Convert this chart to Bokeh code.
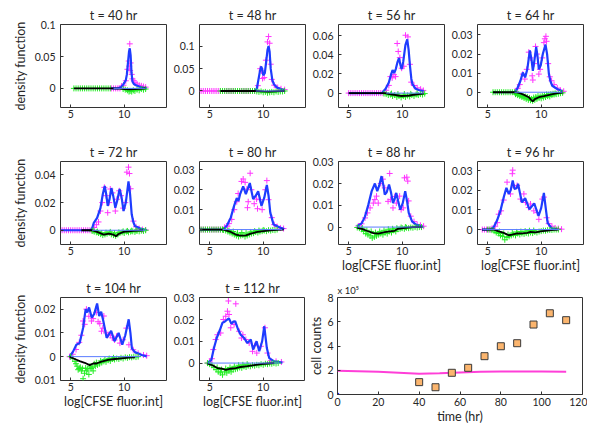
from bokeh.plotting import figure
from bokeh.layouts import row, column
from bokeh.models import Range1d
from bokeh.embed import file_html
from bokeh.resources import INLINE

FONT = "Lato"
MAG = "#ff33ff"
GRN = "#22ee22"
BLU = "#1e3cff"
ZBLU = "#5a7cff"

# ---------------- data: t = 40 hr ----------------
mag40_x = [8.8, 9.0, 9.2, 9.4, 9.6, 9.75, 9.94, 10.15, 10.3, 10.42, 10.47, 10.52, 10.55, 10.6, 10.7, 10.77, 10.9, 11.0, 11.2, 11.4, 11.6, 11.8, 12.0]
mag40_y = [0, 0, 0, 0, 0, 0.0036, 0.005, 0.012, 0.03, 0.043, 0.035, 0.070, 0.028, 0.04, 0.022, 0.015, 0.012, 0.009, 0.007, 0.005, 0.004, 0.003, 0.002]
blu40_x = [8.8, 9.4, 9.7, 9.9, 10.05, 10.15, 10.25, 10.35, 10.45, 10.52, 10.6, 10.68, 10.77, 10.9, 11.1, 11.4, 11.8, 12.1]
blu40_y = [0, 0, 0.002, 0.006, 0.010, 0.013, 0.022, 0.040, 0.058, 0.063, 0.052, 0.025, 0.011, 0.007, 0.005, 0.003, 0.001, 0.0]
grn40_x = [5.3, 5.5, 5.7, 5.9, 6.1, 6.3, 6.5, 6.7, 6.9, 7.1, 7.3, 7.5, 7.7, 7.9, 8.1, 8.3, 8.5, 8.7,
           9.9, 10.1, 10.3, 10.45, 10.55, 10.7, 10.85, 11.0, 11.2, 11.4, 11.6, 11.8, 12.0]
grn40_y = [0, 0, 0, 0, 0, 0, 0, 0, 0, 0, 0, 0, 0, 0, 0, 0, 0, 0,
           -0.001, -0.002, -0.003, -0.005, -0.004, -0.005, -0.003, -0.004, -0.002, -0.003, -0.001, -0.002, -0.001]
blk40_x = [5.3, 8.8, 9.6, 10.0, 10.5, 11.0, 11.5, 12.0]
blk40_y = [0, 0, -0.0005, -0.001, -0.0015, -0.001, -0.0008, 0]
zero40 = [9.0, 12.0]

# ---------------- data: t = 48 hr ----------------
mag48_x = [4.2, 4.4, 4.6, 4.8, 5.0, 5.2, 5.4, 5.6, 5.8, 6.0, 6.2, 6.4, 6.6, 6.8, 7.0, 7.2, 7.4, 7.6, 7.8, 8.0, 8.2, 8.4, 8.6, 8.8, 9.0, 9.2,
           9.5, 9.72, 9.85, 9.94, 10.1, 10.25, 10.4, 10.5, 10.6, 10.7, 10.8, 11.03, 11.35, 11.66, 12.0]
mag48_y = [0, 0, 0, 0, 0, 0, 0, 0, 0, 0, 0, 0, 0, 0, 0, 0, 0, 0, 0, 0, 0, 0, 0, 0, 0, 0,
           0.012, 0.05, 0.045, 0.028, 0.03, 0.069, 0.11, 0.122, 0.107, 0.06, 0.026, 0.013, 0.0075, 0.005, 0.003]
blu48_x = [6.0, 9.2, 9.4, 9.55, 9.7, 9.8, 9.9, 10.0, 10.15, 10.3, 10.4, 10.5, 10.6, 10.7, 10.85, 11.0, 11.3, 11.7, 12.0]
blu48_y = [0, 0, 0.005, 0.025, 0.045, 0.055, 0.05, 0.035, 0.04, 0.07, 0.092, 0.101, 0.088, 0.05, 0.025, 0.015, 0.0075, 0.004, 0.002]
grn48_x = [6.0, 6.2, 6.4, 6.6, 6.8, 7.0, 7.2, 7.4, 7.6, 7.8, 8.0, 8.2, 8.4, 8.6, 8.8, 9.0, 9.2,
           9.4, 9.6, 9.8, 10.0, 10.2, 10.4, 10.6, 10.8, 11.0, 11.2, 11.4, 11.6, 11.8, 12.0]
grn48_y = [0, 0, 0, 0, 0, 0, 0, 0, 0, 0, 0, 0, 0, 0, 0, 0, 0,
           -0.001, -0.002, -0.001, -0.003, -0.002, -0.004, -0.003, -0.002, -0.003, -0.001, -0.002, -0.001, -0.001, 0.0]
blk48_x = [6.0, 9.3, 10.0, 10.5, 11.0, 11.5, 12.0]
blk48_y = [0, 0, -0.001, -0.0015, -0.001, -0.0005, 0]
zero48 = [9.3, 12.0]

# ---------------- data: t = 56 hr ----------------
mag56_x = [5.0, 5.2, 5.4, 5.6, 5.8, 6.0, 6.2, 6.4, 6.6, 6.8, 7.0, 7.2, 7.4, 7.6, 7.8, 8.0, 8.2,
           8.5, 8.75, 8.9, 9.06, 9.22, 9.38, 9.53, 9.63, 9.78, 9.95, 10.15, 10.31, 10.53, 10.72, 10.84, 11.1, 11.4, 11.72, 11.97]
mag56_y = [0, 0, 0, 0, 0, 0, 0, 0, 0, 0, 0, 0, 0, 0, 0, 0, 0,
           0.003, 0.008, 0.0172, 0.0159, 0.0193, 0.0172, 0.0517, 0.0434, 0.037, 0.026, 0.028, 0.0603, 0.0586, 0.030, 0.0114, 0.0079, 0.0055, 0.0041, 0.0028]
blu56_x = [5.0, 8.1, 8.45, 8.75, 8.95, 9.1, 9.25, 9.4, 9.55, 9.7, 9.82, 9.95, 10.1, 10.3, 10.47, 10.6, 10.72, 10.85, 10.95, 11.25, 11.6, 12.0]
blu56_y = [0, 0, 0.0045, 0.011, 0.019, 0.024, 0.021, 0.025, 0.032, 0.0365, 0.03, 0.025, 0.033, 0.05, 0.056, 0.045, 0.029, 0.015, 0.0097, 0.0045, 0.003, 0.002]
grn56_x = [8.3, 8.5, 8.7, 8.9, 9.0, 9.1, 9.3, 9.5, 9.6, 9.7, 9.9, 10.1, 10.2, 10.3, 10.5, 10.7, 10.8, 10.9, 11.1, 11.3, 11.4, 11.5, 11.7, 11.9, 12.1]
grn56_y = [-0.0005, -0.001, -0.002, -0.0015, -0.0005, -0.003, -0.002, -0.004, -0.001, -0.003, -0.0045, -0.003, -0.001, -0.004, -0.0025,
           -0.0035, -0.0008, -0.002, -0.003, -0.0015, -0.0005, -0.002, -0.001, -0.0015, -0.0005]
blk56_x = [5.0, 8.4, 8.8, 9.2, 9.6, 9.85, 10.3, 10.7, 11.1, 11.5, 12.0]
blk56_y = [0, 0, -0.001, -0.0017, -0.0025, -0.003, -0.0028, -0.0025, -0.0017, -0.001, -0.0005]
zero56 = [8.5, 12.0]

# ---------------- data: t = 64 hr ----------------
mag64_x = [7.8, 8.0, 8.28, 8.47, 8.65, 8.84, 9.0, 9.16, 9.22, 9.35, 9.47, 9.6, 9.78, 9.9, 10.1, 10.25, 10.34, 10.44, 10.5, 10.65, 10.8, 10.97, 11.2, 11.5, 11.8, 12.1]
mag64_y = [0.002, 0.004, 0.0095, 0.0069, 0.012, 0.021, 0.018, 0.0086, 0.0064, 0.015, 0.024, 0.02, 0.0095, 0.012, 0.018, 0.026, 0.028, 0.0293, 0.0267, 0.015, 0.0081, 0.006, 0.004, 0.0022, 0.001, 0.0005]
blu64_x = [5.5, 7.5, 7.75, 8.06, 8.28, 8.5, 8.7, 8.94, 9.1, 9.22, 9.35, 9.53, 9.65, 9.78, 9.95, 10.15, 10.4, 10.55, 10.72, 10.85, 11.03, 11.5, 12.0]
blu64_y = [0, 0, 0.0017, 0.006, 0.0103, 0.0078, 0.012, 0.0219, 0.017, 0.0112, 0.016, 0.0238, 0.019, 0.012, 0.014, 0.02, 0.025, 0.02, 0.0095, 0.006, 0.0034, 0.0017, 0.0005]
grn64_x = [5.5, 5.7, 5.9, 6.1, 6.3, 6.5, 6.7, 6.9, 7.1, 7.3, 7.5,
           7.6, 7.8, 8.0, 8.2, 8.4, 8.6, 8.8, 9.0, 9.2, 9.4, 9.6, 9.8, 10.0, 10.2, 10.4, 10.6, 10.8, 11.0, 11.2, 11.4, 11.6, 11.8, 12.0,
           7.7, 7.9, 8.1, 8.3, 8.5, 8.7, 8.9, 9.1, 9.3, 9.5, 9.7, 9.9, 10.1, 10.3, 10.5, 10.7, 10.9, 11.1, 11.3]
grn64_y = [0, 0, 0, 0, 0, 0, 0, 0, 0, 0, 0,
           -0.001, -0.0015, -0.002, -0.0025, -0.003, -0.0035, -0.004, -0.0042, -0.0045, -0.004, -0.0035, -0.003, -0.0032, -0.0028, -0.0025,
           -0.002, -0.0022, -0.0015, -0.0012, -0.001, -0.0008, -0.0005, -0.0003,
           -0.0005, -0.001, -0.0015, -0.002, -0.0022, -0.0025, -0.003, -0.0035, -0.0028, -0.0025, -0.002, -0.0022, -0.0018, -0.0015,
           -0.0012, -0.0013, -0.001, -0.0008, -0.0006]
blk64_x = [5.5, 7.6, 8.0, 8.4, 8.84, 9.06, 9.22, 9.4, 9.78, 10.25, 10.87, 11.5, 12.0]
blk64_y = [0, 0, -0.0005, -0.0014, -0.0026, -0.004, -0.0048, -0.0036, -0.0026, -0.002, -0.0012, -0.0005, -0.0002]
zero64 = [7.5, 12.0]

# ---------------- data: t = 72 hr ----------------
mag72_x = [4.2, 4.4, 4.6, 4.8, 5.0, 5.2, 5.4, 5.6, 5.8, 6.0, 6.2, 6.4, 6.6, 6.8, 7.0,
           7.2, 7.4, 7.6, 7.78, 7.95, 8.15, 8.3, 8.46, 8.6, 8.7, 8.9, 9.17, 9.32, 9.54, 9.7, 9.9, 10.1, 10.25, 10.4, 10.49, 10.6, 10.86, 11.1, 11.4, 11.7, 12.0]
mag72_y = [0, 0, 0, 0, 0, 0, 0, 0, 0, 0, 0, 0, 0, 0, 0,
           0.002, 0.004, 0.006, 0.0139, 0.02, 0.031, 0.025, 0.0127, 0.02, 0.0298, 0.027, 0.0139, 0.0224, 0.0285, 0.025, 0.016, 0.02, 0.042, 0.0456, 0.041, 0.03, 0.0066, 0.0025, 0.0012, 0.0005, 0.0002]
blu72_x = [4.1, 6.8, 7.0, 7.16, 7.47, 7.78, 8.0, 8.18, 8.32, 8.46, 8.62, 8.8, 8.97, 9.17, 9.37, 9.57, 9.75, 9.94, 10.15, 10.4, 10.55, 10.7, 10.85, 11.0, 11.5, 12.1]
blu72_y = [0, 0, 0.0012, 0.0054, 0.009, 0.016, 0.026, 0.032, 0.026, 0.0176, 0.022, 0.0305, 0.025, 0.0163, 0.022, 0.0298, 0.024, 0.0139, 0.02, 0.0354, 0.026, 0.0115, 0.006, 0.003, 0.0012, 0.0002]
grn72_x = [7.0, 7.2, 7.4, 7.6, 7.8, 8.0, 8.2, 8.4, 8.6, 8.8, 9.0, 9.2, 9.4, 9.6, 9.8, 10.0, 10.2, 10.4, 10.6, 10.8, 11.0, 11.2, 11.4, 11.6, 11.8, 12.0,
           7.1, 7.5, 7.9, 8.3, 8.7, 9.1, 9.5, 9.9, 10.3, 10.7, 11.1]
grn72_y = [-0.0005, -0.001, -0.0015, -0.002, -0.0028, -0.0035, -0.003, -0.0025, -0.002, -0.003, -0.0035, -0.004, -0.003, -0.002, -0.0015, -0.002,
           -0.001, -0.0015, -0.001, -0.0008, -0.0012, -0.0005, -0.0008, -0.0003, -0.0005, 0,
           -0.0002, -0.001, -0.002, -0.0018, -0.0012, -0.002, -0.0015, -0.0008, -0.0005, -0.0003, -0.0002]
blk72_x = [6.0, 7.0, 7.47, 8.09, 8.56, 9.0, 9.23, 9.47, 9.94, 10.86, 11.78]
blk72_y = [0, 0, -0.0012, -0.0032, -0.0024, -0.0032, -0.0044, -0.0027, -0.0012, -0.0005, -0.0001]
zero72 = [7.0, 12.0]

# ---------------- data: t = 80 hr ----------------
mag80_x = [4.2, 4.4, 4.6, 4.8, 5.0, 5.2, 5.4, 5.6, 5.8, 6.0, 6.2,
           6.4, 6.66, 6.8, 7.06, 7.3, 7.53, 7.66, 7.97, 8.13, 8.31, 8.47, 8.53, 8.6, 8.78, 8.9, 9.16, 9.38, 9.47, 9.7, 9.9, 10.2, 10.34, 10.5, 10.8, 11.03, 11.3, 11.6, 11.9]
mag80_y = [0, 0, 0, 0, 0, 0, 0, 0, 0, 0, 0,
           0.0012, 0.0017, 0.003, 0.0051, 0.01, 0.014, 0.0181, 0.0242, 0.0254, 0.0237, 0.0203, 0.011, 0.014, 0.0283, 0.02, 0.013, 0.0153, 0.0105, 0.015, 0.01, 0.02, 0.0246, 0.015, 0.006, 0.0025, 0.0015, 0.0008, 0.0005]
blu80_x = [4.1, 6.3, 6.66, 6.97, 7.28, 7.53, 7.69, 7.84, 8.13, 8.38, 8.75, 9.06, 9.3, 9.53, 9.84, 10.1, 10.34, 10.5, 10.66, 10.97, 11.5, 11.97]
blu80_y = [0, 0, 0.0025, 0.006, 0.0119, 0.0158, 0.0144, 0.0178, 0.0217, 0.0178, 0.0234, 0.0153, 0.017, 0.0192, 0.0119, 0.016, 0.0224, 0.017, 0.0085, 0.0025, 0.0012, 0.0003]
grn80_x = [4.2, 4.4, 4.6, 4.8, 5.0, 5.2, 5.4, 5.6, 5.8, 6.0, 6.2,
           6.3, 6.5, 6.7, 6.9, 7.1, 7.3, 7.5, 7.7, 7.9, 8.1, 8.3, 8.5, 8.7, 8.9, 9.1, 9.3, 9.5, 9.7, 9.9, 10.1, 10.3, 10.5, 10.7, 10.9, 11.1, 11.3,
           6.8, 7.2, 7.6, 8.0, 8.4, 8.8, 9.2, 9.6, 10.0]
grn80_y = [0, 0, 0, 0, 0, 0, 0, 0, 0, 0, 0,
           -0.0002, -0.0005, -0.001, -0.0015, -0.002, -0.0025, -0.003, -0.0035, -0.003, -0.0028, -0.0035, -0.003, -0.0025, -0.002, -0.0018,
           -0.0012, -0.0015, -0.001, -0.0008, -0.0005, -0.0008, -0.0003, -0.0005, -0.0002, -0.0003, 0,
           -0.0005, -0.001, -0.0018, -0.0015, -0.0018, -0.0012, -0.0008, -0.0005, -0.0002]
blk80_x = [4.1, 6.3, 6.97, 7.44, 7.9, 8.38, 8.84, 9.47, 10.4, 11.3, 11.9]
blk80_y = [0, 0, -0.0012, -0.0025, -0.003, -0.0029, -0.002, -0.0012, -0.0005, -0.0002, 0]
zero80 = [6.2, 11.8]

# ---------------- data: t = 88 hr ----------------
mag88_x = [5.9, 6.2, 6.53, 6.75, 7.0, 7.3, 7.45, 7.6, 7.76, 8.0, 8.2, 8.37, 8.68, 8.83, 8.9, 9.14, 9.3, 9.45, 9.76, 9.9, 10.1, 10.21, 10.43, 10.52, 10.6, 10.8, 11.1, 11.4, 11.7, 12.0]
mag88_y = [0.0005, 0.0015, 0.0042, 0.0065, 0.0088, 0.011, 0.0126, 0.0142, 0.011, 0.02, 0.022, 0.018, 0.0118, 0.0246, 0.0126, 0.0088, 0.014, 0.011, 0.0142, 0.008, 0.0088, 0.0226, 0.0229, 0.0211, 0.012, 0.005, 0.0025, 0.0012, 0.0008, 0.0004]
blu88_x = [5.77, 6.23, 6.53, 6.84, 7.15, 7.45, 7.67, 7.85, 8.07, 8.25, 8.37, 8.55, 8.77, 8.95, 9.14, 9.3, 9.45, 9.62, 9.82, 10.05, 10.28, 10.45, 10.61, 10.92, 11.29, 11.9]
blu88_y = [0.0003, 0.0018, 0.0049, 0.0103, 0.0165, 0.02, 0.0165, 0.019, 0.0234, 0.019, 0.0149, 0.016, 0.0195, 0.016, 0.011, 0.013, 0.0157, 0.012, 0.008, 0.011, 0.0165, 0.012, 0.0065, 0.0026, 0.0011, 0.0002]
grn88_x = [5.8, 6.0, 6.2, 6.4, 6.6, 6.8, 7.0, 7.2, 7.4, 7.6, 7.8, 8.0, 8.2, 8.4, 8.6, 8.8, 9.0, 9.2, 9.4, 9.6, 9.8, 10.0, 10.2, 10.4, 10.6, 10.8, 11.0, 11.2, 11.4, 11.6, 11.8,
           6.3, 6.7, 7.1, 7.5, 7.9, 8.3, 8.7, 9.1, 9.5, 9.9, 10.3]
grn88_y = [-0.0002, -0.0005, -0.001, -0.002, -0.003, -0.0035, -0.004, -0.005, -0.0045, -0.004, -0.0035, -0.003, -0.0035, -0.0025, -0.003, -0.002,
           -0.0025, -0.0015, -0.002, -0.001, -0.0008, -0.0005, -0.0008, -0.0003, -0.0005, -0.0002, -0.0003, 0, -0.0002, 0, 0,
           -0.0005, -0.0015, -0.002, -0.0025, -0.002, -0.0015, -0.001, -0.0008, -0.0005, -0.0002, 0]
blk88_x = [5.77, 6.23, 6.69, 7.3, 7.76, 8.37, 8.83, 9.29, 9.6, 10.06, 10.98, 11.9]
blk88_y = [-0.0002, -0.0008, -0.0017, -0.0028, -0.003, -0.0023, -0.002, -0.0017, -0.0008, -0.0005, 0, 0]
zero88 = [5.8, 12.0]

# ---------------- data: t = 96 hr ----------------
mag96_x = [4.5, 4.7, 4.9, 5.1, 5.3,
           5.4, 5.7, 5.9, 6.03, 6.25, 6.5, 6.81, 7.13, 7.3, 7.34, 7.5, 7.75, 8.06, 8.38, 8.53, 8.84, 9.0, 9.31, 9.63, 9.78, 10.1, 10.25, 10.5, 10.7, 11.0, 11.3, 11.6, 11.9]
mag96_y = [0, 0, 0, 0, 0,
           0.0005, 0.0017, 0.0035, 0.0078, 0.0095, 0.015, 0.0241, 0.0181, 0.0284, 0.0302, 0.0216, 0.0224, 0.0155, 0.0181, 0.0138, 0.0112, 0.013, 0.0095, 0.0086, 0.0052, 0.0155, 0.0165, 0.006, 0.003, 0.0017, 0.0008, 0.0005, 0.0002]
blu96_x = [4.47, 5.25, 5.56, 5.88, 6.19, 6.5, 6.75, 6.97, 7.15, 7.34, 7.5, 7.7, 7.84, 8.0, 8.2, 8.5, 8.9, 9.35, 9.75, 10.0, 10.25, 10.42, 10.6, 11.0, 11.5]
blu96_y = [0, 0, 0.0012, 0.0047, 0.0095, 0.0164, 0.0212, 0.0181, 0.02, 0.025, 0.0207, 0.021, 0.0233, 0.019, 0.0138, 0.016, 0.0103, 0.0133, 0.0069, 0.011, 0.0186, 0.011, 0.0034, 0.0005, 0.0001]
grn96_x = [5.0, 5.2, 5.4, 5.6, 5.8, 6.0, 6.2, 6.4, 6.6, 6.8, 7.0, 7.2, 7.4, 7.6, 7.8, 8.0, 8.2, 8.4, 8.6, 8.8, 9.0, 9.2, 9.4, 9.6, 9.8, 10.0,
           10.2, 10.4, 10.6, 10.8, 11.0, 11.2, 11.4, 11.6,
           6.1, 6.5, 6.9, 7.3, 7.7, 8.1, 8.5, 8.9, 9.3]
grn96_y = [0, 0, -0.0003, -0.0008, -0.0015, -0.002, -0.003, -0.0035, -0.0052, -0.004, -0.0035, -0.003, -0.0025, -0.003, -0.002, -0.0025,
           -0.002, -0.0022, -0.0018, -0.002, -0.0015, -0.0018, -0.0012, -0.0015, -0.001, -0.0008, -0.0005, -0.0006, -0.0003, -0.0002, -0.0002, 0, 0, 0,
           -0.001, -0.002, -0.0025, -0.0018, -0.0012, -0.001, -0.0008, -0.0006, -0.0005]
blk96_x = [4.47, 5.6, 6.03, 6.5, 6.97, 7.28, 7.75, 8.22, 8.69, 9.0, 9.47, 9.94, 10.56, 11.2, 11.6]
blk96_y = [0, 0, -0.0009, -0.0017, -0.0029, -0.0026, -0.002, -0.0019, -0.0017, -0.0012, -0.0014, -0.0009, -0.0005, -0.0002, 0]
zero96 = [4.5, 11.7]

# ---------------- data: t = 104 hr ----------------
mag104_x = [4.9, 5.0, 5.2, 5.5, 5.8, 6.0, 6.16, 6.31, 6.47, 6.7, 6.94, 7.1, 7.4, 7.56, 7.72, 7.88, 8.0, 8.1, 8.3, 8.5, 8.7, 8.9, 9.1, 9.28, 9.6, 9.9, 10.2, 10.44, 10.84, 11.3, 11.8, 12.1]
mag104_y = [0, 0, 0.001, 0.003, 0.006, 0.009, 0.015, 0.0136, 0.02, 0.017, 0.015, 0.016, 0.0186, 0.0147, 0.0139, 0.0107, 0.012, 0.0171, 0.01, 0.0093, 0.009, 0.0079, 0.007, 0.0086, 0.0057, 0.0071, 0.012, 0.005, 0.0029, 0.0014, 0.0007, 0.0004]
blu104_x = [4.9, 5.22, 5.53, 5.84, 6.16, 6.4, 6.56, 6.72, 6.97, 7.2, 7.47, 7.66, 7.85, 8.05, 8.36, 8.78, 9.09, 9.48, 9.82, 10.1, 10.42, 10.58, 10.72, 11.0, 11.63, 12.1]
blu104_y = [0, 0.0021, 0.005, 0.0057, 0.0121, 0.02, 0.0186, 0.0207, 0.0164, 0.018, 0.0224, 0.0171, 0.0189, 0.015, 0.0079, 0.0109, 0.0065, 0.01, 0.005, 0.009, 0.0157, 0.01, 0.0035, 0.0019, 0.0007, 0.0001]
grn104_x = [5.0, 5.2, 5.4, 5.6, 5.8, 6.0, 6.16, 6.3, 6.5, 6.7, 6.9, 7.1, 7.3, 7.5, 7.7, 7.9, 8.1, 8.3, 8.5, 8.7, 8.9, 9.1, 9.3, 9.5, 9.7, 9.9,
            10.1, 10.3, 10.5, 10.7, 10.9, 11.1, 11.3,
            5.5, 5.7, 5.9, 6.1, 6.4, 6.6, 6.8, 7.0, 7.2, 7.4, 7.8, 8.2, 8.6, 9.0]
grn104_y = [0, -0.0008, -0.002, -0.004, -0.005, -0.006, -0.0093, -0.007, -0.006, -0.0075, -0.005, -0.006, -0.004, -0.0035, -0.003, -0.0025,
            -0.002, -0.0022, -0.0015, -0.0018, -0.001, -0.0012, -0.0008, -0.001, -0.0005, -0.0008, -0.0003, -0.0005, -0.0002, -0.0003, 0, -0.0002, 0,
            -0.003, -0.0055, -0.0045, -0.005, -0.0048, -0.0052, -0.004, -0.0045, -0.003, -0.0025, -0.0018, -0.0012, -0.0008, -0.0005]
blk104_x = [4.9, 5.38, 5.84, 6.31, 6.78, 7.1, 7.4, 7.88, 8.5, 9.13, 9.75, 10.4, 11.0]
blk104_y = [0, -0.001, -0.0019, -0.0026, -0.0036, -0.0029, -0.0029, -0.0021, -0.0014, -0.001, -0.0007, -0.0004, -0.0003]
zero104 = [5.0, 11.5]

# ---------------- data: t = 112 hr ----------------
mag112_x = [4.8, 5.0, 5.2, 5.34, 5.56, 5.72, 6.03, 6.28, 6.5, 6.66, 6.75, 6.81, 6.97, 7.28, 7.44, 7.75, 7.97, 8.1, 8.38, 8.69, 9.0, 9.2, 9.4, 9.78, 10.16, 10.4, 10.7, 11.2, 11.7]
mag112_y = [0, 0.0005, 0.002, 0.0062, 0.0108, 0.013, 0.0138, 0.02, 0.0215, 0.0238, 0.0285, 0.0223, 0.0162, 0.0177, 0.0272, 0.0146, 0.0115, 0.013, 0.0108, 0.0092, 0.0054, 0.008, 0.0046, 0.0077, 0.0162, 0.0046, 0.0011, 0.0008, 0.0005]
blu112_x = [4.78, 5.16, 5.4, 5.66, 5.97, 6.19, 6.4, 6.66, 6.8, 7.03, 7.2, 7.38, 7.66, 7.9, 8.22, 8.53, 8.84, 9.06, 9.38, 9.63, 9.9, 10.1, 10.34, 10.56, 11.03, 11.8]
blu112_y = [0, 0.0015, 0.0069, 0.0115, 0.0154, 0.0185, 0.019, 0.02, 0.0205, 0.018, 0.019, 0.0192, 0.0154, 0.013, 0.0115, 0.0092, 0.0108, 0.0062, 0.01, 0.0054, 0.01, 0.0169, 0.0069, 0.0023, 0.0008, 0.0002]
grn112_x = [4.8, 5.0, 5.2, 5.4, 5.6, 5.8, 6.0, 6.2, 6.4, 6.6, 6.8, 7.0, 7.2, 7.4, 7.6, 7.8, 8.0, 8.2, 8.4, 8.6, 8.8, 9.0, 9.2, 9.4, 9.6, 9.8,
            10.0, 10.2, 10.4, 10.6, 10.8, 11.0, 11.2, 11.4,
            5.7, 6.1, 6.5, 6.9, 7.3, 7.7, 8.1, 8.5]
grn112_y = [0, -0.0005, -0.001, -0.002, -0.003, -0.004, -0.0045, -0.0054, -0.004, -0.0045, -0.0035, -0.004, -0.003, -0.0028, -0.0025, -0.002,
            -0.0022, -0.0015, -0.0018, -0.0012, -0.0015, -0.001, -0.0012, -0.0008, -0.001, -0.0005, -0.0008, -0.0003, -0.0005, -0.0002, -0.0003, 0, -0.0002, 0,
            -0.002, -0.003, -0.0025, -0.002, -0.0015, -0.001, -0.0008, -0.0005]
blk112_x = [4.78, 5.25, 5.72, 6.19, 6.5, 6.97, 7.44, 7.9, 8.53, 9.16, 9.78, 10.4, 11.03]
blk112_y = [-0.0002, -0.001, -0.0023, -0.0026, -0.0031, -0.0026, -0.0023, -0.0018, -0.0014, -0.0009, -0.0005, -0.0002, 0]
zero112 = [4.8, 11.5]

# ---------------- ticks ----------------
x_ticks = [5, 10]
x_tick_labels = ["5", "10"]
yt40 = [0, 0.05, 0.1];          ytl40 = ["0", "0.05", "0.1"]
yt48 = [0, 0.05, 0.1];          ytl48 = ["0", "0.05", "0.1"]
yt56 = [0, 0.02, 0.04, 0.06];   ytl56 = ["0", "0.02", "0.04", "0.06"]
yt64 = [0, 0.01, 0.02, 0.03];   ytl64 = ["0", "0.01", "0.02", "0.03"]
yt72 = [0, 0.02, 0.04];         ytl72 = ["0", "0.02", "0.04"]
yt80 = [0, 0.01, 0.02, 0.03];   ytl80 = ["0", "0.01", "0.02", "0.03"]
yt88 = [0, 0.01, 0.02, 0.03];   ytl88 = ["0", "0.01", "0.02", "0.03"]
yt96 = [0, 0.01, 0.02, 0.03];   ytl96 = ["0", "0.01", "0.02", "0.03"]
yt104 = [-0.01, 0, 0.01, 0.02]; ytl104 = ["0.01", "0", "0.01", "0.02"]
yt112 = [0, 0.01, 0.02, 0.03];  ytl112 = ["0", "0.01", "0.02", "0.03"]

# ---------------- cell counts ----------------
sample_t = [40, 48, 56, 64, 72, 80, 88, 96, 104, 112]
cell_counts_1e5 = [1.02, 0.60, 1.79, 2.2, 3.16, 3.98, 4.23, 5.77, 6.70, 6.13]
model_t = [0, 10, 20, 30, 40, 50, 60, 70, 80, 90, 100, 112]
model_counts_1e5 = [1.95, 1.92, 1.87, 1.80, 1.72, 1.76, 1.82, 1.87, 1.90, 1.90, 1.90, 1.87]
count_x_ticks = [0, 20, 40, 60, 80, 100, 120]
count_y_ticks = [0, 2, 4, 6, 8]

panels = [
    ("t = 40 hr", mag40_x, mag40_y, blu40_x, blu40_y, grn40_x, grn40_y, blk40_x, blk40_y, zero40, yt40, ytl40, (-0.03, 0.1004)),
    ("t = 48 hr", mag48_x, mag48_y, blu48_x, blu48_y, grn48_x, grn48_y, blk48_x, blk48_y, zero48, yt48, ytl48, (-0.037, 0.149)),
    ("t = 56 hr", mag56_x, mag56_y, blu56_x, blu56_y, grn56_x, grn56_y, blk56_x, blk56_y, zero56, yt56, ytl56, (-0.015, 0.0715)),
    ("t = 64 hr", mag64_x, mag64_y, blu64_x, blu64_y, grn64_x, grn64_y, blk64_x, blk64_y, zero64, yt64, ytl64, (-0.008, 0.0355)),
    ("t = 72 hr", mag72_x, mag72_y, blu72_x, blu72_y, grn72_x, grn72_y, blk72_x, blk72_y, zero72, yt72, ytl72, (-0.0103, 0.0497)),
    ("t = 80 hr", mag80_x, mag80_y, blu80_x, blu80_y, grn80_x, grn80_y, blk80_x, blk80_y, zero80, yt80, ytl80, (-0.0075, 0.0342)),
    ("t = 88 hr", mag88_x, mag88_y, blu88_x, blu88_y, grn88_x, grn88_y, blk88_x, blk88_y, zero88, yt88, ytl88, (-0.008, 0.0301)),
    ("t = 96 hr", mag96_x, mag96_y, blu96_x, blu96_y, grn96_x, grn96_y, blk96_x, blk96_y, zero96, yt96, ytl96, (-0.0076, 0.0346)),
    ("t = 104 hr", mag104_x, mag104_y, blu104_x, blu104_y, grn104_x, grn104_y, blk104_x, blk104_y, zero104, yt104, ytl104, (-0.01005, 0.0249)),
    ("t = 112 hr", mag112_x, mag112_y, blu112_x, blu112_y, grn112_x, grn112_y, blk112_x, blk112_y, zero112, yt112, ytl112, (-0.008, 0.0301)),
]

FW, FH = 106, 83
XR = (4.05, 13.95)
TXT = "#262626"


def style_axes(p):
    p.xgrid.visible = False
    p.ygrid.visible = False
    p.outline_line_color = "#333333"
    p.outline_line_width = 1
    p.background_fill_color = "white"
    p.border_fill_color = "white"
    for ax in (p.xaxis[0], p.yaxis[0]):
        ax.axis_line_color = None
        ax.major_tick_in = 3
        ax.major_tick_out = 0
        ax.major_tick_line_color = "#333333"
        ax.minor_tick_line_color = None
        ax.major_label_text_font = FONT
        ax.major_label_text_font_size = "10.5px"
        ax.major_label_text_color = TXT
        ax.major_label_standoff = 5
        ax.axis_label_text_font = FONT
        ax.axis_label_text_font_size = "12.5px"
        ax.axis_label_text_font_style = "normal"
        ax.axis_label_text_color = TXT
        ax.axis_label_standoff = 4
    p.xaxis[0].major_label_standoff = 2
    p.xaxis[0].axis_label_standoff = 0


def density_panel(idx, L, R, T, B, ylabel=None, xlabel=None):
    (title, mx, my, bx, by, gx, gy, kx, ky, zx, yt, ytl, yr) = panels[idx]
    p = figure(frame_width=FW, frame_height=FH,
               x_range=Range1d(*XR), y_range=Range1d(*yr),
               output_backend="svg", toolbar_location=None,
               min_border_left=L, min_border_right=R,
               min_border_top=T, min_border_bottom=B)
    p.scatter(mx, my, marker="cross", size=6, line_color=MAG, line_width=1)
    p.line(bx, by, line_color=BLU, line_width=2.2)
    p.scatter(gx, gy, marker="cross", size=6, line_color=GRN, line_width=1)
    p.line(kx, ky, line_color="black", line_width=1.8)
    p.line(zx, [0, 0], line_color=ZBLU, line_width=1)
    style_axes(p)
    p.xaxis[0].ticker = x_ticks
    p.xaxis[0].major_label_overrides = dict(zip(x_ticks, x_tick_labels))
    p.yaxis[0].ticker = yt
    p.yaxis[0].major_label_overrides = dict(zip(yt, ytl))
    if ylabel:
        p.yaxis[0].axis_label = ylabel
    if xlabel:
        p.xaxis[0].axis_label = xlabel
    p.title.text = title
    p.title.align = "center"
    p.title.text_font = FONT
    p.title.text_font_size = "12.5px"
    p.title.text_font_style = "normal"
    p.title.text_color = TXT
    p.title.standoff = 4
    return p


XL = "log[CFSE fluor.int]"
YL = "density function"

# Row 1: frames at y 24..107
r1 = row(density_panel(0, 60, 3, 24, 32, ylabel=YL),
         density_panel(1, 30, 3, 24, 32),
         density_panel(2, 30, 3, 24, 32),
         density_panel(3, 30, 3, 24, 32))
# Row 2: frames at y 161..244
r2 = row(density_panel(4, 60, 3, 22, 32, ylabel=YL),
         density_panel(5, 30, 3, 22, 32),
         density_panel(6, 30, 3, 22, 32, xlabel=XL),
         density_panel(7, 30, 3, 22, 32, xlabel=XL))

# cell counts panel: frame at x 337..582, y 294..391
pc = figure(frame_width=245, frame_height=97, x_range=Range1d(0, 120), y_range=Range1d(0, 8),
            output_backend="svg", toolbar_location=None,
            min_border_left=32, min_border_right=5, min_border_top=16, min_border_bottom=33)
pc.line(model_t, model_counts_1e5, line_color="#ff3fd8", line_width=2)
pc.scatter(sample_t, cell_counts_1e5, marker="square", size=7, fill_color="#fbb56e",
           line_color="#3a3a3a", line_width=1)
pc.scatter([0], [0], marker="circle", size=3, color="#0000ff")
style_axes(pc)
pc.xaxis[0].ticker = count_x_ticks
pc.yaxis[0].ticker = count_y_ticks
pc.xaxis[0].axis_label = "time (hr)"
pc.yaxis[0].axis_label = "cell counts"
pc.yaxis[0].major_label_standoff = 4
pc.yaxis[0].axis_label_standoff = 0
pc.xaxis[0].major_label_standoff = 3
pc.xaxis[0].axis_label_standoff = 0
pc.title.text = "x 10\u2075"
pc.title.align = "left"
pc.title.text_font = FONT
pc.title.text_font_size = "9.5px"
pc.title.text_font_style = "normal"
pc.title.text_color = TXT
pc.title.standoff = 4

# Row 3: frames at y 297..380
r3 = row(density_panel(8, 60, 3, 19, 32, ylabel=YL, xlabel=XL),
         density_panel(9, 30, 0, 19, 32, xlabel=XL),
         pc)

layout = column(r1, r2, r3)

open("out.html", "w").write(file_html(layout, INLINE))
